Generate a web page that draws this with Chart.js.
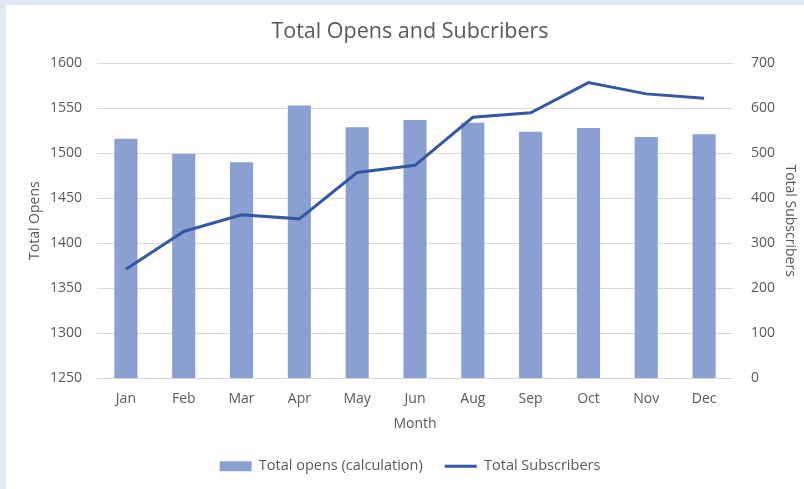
<!DOCTYPE html>
<html>
<head>
<meta charset="utf-8">
<script src="https://cdn.jsdelivr.net/npm/chart.js@4.4.1/dist/chart.umd.min.js"></script>
<style>
  html, body { margin: 0; padding: 0; }
  body { background: #dfe8f3; width: 804px; height: 489px; overflow: hidden; }
  #card { position: absolute; left: 6px; top: 5px; width: 798px; height: 484px; background: #fff; }
</style>
</head>
<body>
<div id="card"><canvas id="myChart" width="798" height="484"></canvas></div>
<script>
// data (no Jul in the original)
const months = ['Jan', 'Feb', 'Mar', 'Apr', 'May', 'Jun', 'Aug', 'Sep', 'Oct', 'Nov', 'Dec'];
const totalOpens = [1516, 1499, 1490, 1553, 1529, 1537, 1534, 1524, 1528, 1518, 1521];
const totalSubscribers = [242, 326, 363, 354, 457, 473, 580, 590, 657, 632, 622];
const leftTicks = [1250, 1300, 1350, 1400, 1450, 1500, 1550, 1600];
const rightTicks = [0, 100, 200, 300, 400, 500, 600, 700];

const grey = '#595959';
const tickFont = { family: 'Open Sans', size: 14 };
const titleFont = { family: 'Open Sans', size: 14 };

// fixed legend height so the gap between items can be wide
const legendHeight = {
  id: 'legendHeight',
  beforeInit(chart) {
    const fit = chart.legend.fit;
    chart.legend.fit = function() {
      fit.call(this);
      this.height = 52;
    };
  }
};

let ctx = document.getElementById('myChart').getContext('2d');
let chart = new Chart(ctx, {
  data: {
    labels: months,
    datasets: [
      {
        type: 'line',
        label: 'Total Subscribers',
        data: totalSubscribers,
        yAxisID: 'y1',
        borderColor: '#3558a0',
        backgroundColor: '#3558a0',
        borderWidth: 3,
        pointRadius: 0,
        pointStyle: 'line',
        tension: 0,
        order: 0
      },
      {
        type: 'bar',
        label: 'Total opens (calculation)',
        data: totalOpens,
        yAxisID: 'y',
        backgroundColor: '#8ba0d2',
        borderWidth: 0,
        pointStyle: 'rect',
        categoryPercentage: 1,
        barPercentage: 0.4,
        order: 1
      }
    ]
  },
  plugins: [legendHeight],
  options: {
    responsive: false,
    animation: false,
    layout: { padding: { left: 10, right: 0, top: 0, bottom: 0 } },
    plugins: {
      title: {
        display: true,
        text: 'Total Opens and Subcribers',
        color: grey,
        font: { family: 'Open Sans', size: 21.5, weight: 'normal' },
        padding: { top: 14, bottom: 18.5 }
      },
      legend: {
        position: 'bottom',
        reverse: true,
        labels: {
          color: grey,
          font: { family: 'Open Sans', size: 14.5 },
          usePointStyle: true,
          pointStyleWidth: 32,
          boxWidth: 32,
          boxHeight: 10,
          padding: 22
        }
      },
      tooltip: { enabled: false }
    },
    scales: {
      x: {
        grid: { display: false },
        border: { display: false },
        ticks: { color: grey, font: tickFont, padding: 5 },
        title: { display: true, text: 'Month', color: grey, font: titleFont, padding: { top: 4, bottom: 5 } },
        afterFit: function(scale) { scale.height = 59; }
      },
      y: {
        position: 'left',
        min: 1250,
        max: 1600,
        afterBuildTicks: function(scale) { scale.ticks = leftTicks.map(v => ({ value: v })); },
        grid: { color: '#d9d9d9', drawTicks: false },
        border: { display: false },
        ticks: { color: grey, font: tickFont, padding: 15, callback: v => String(v) },
        title: { display: true, text: 'Total Opens', color: grey, font: titleFont, padding: { top: 11, bottom: 0 } },
        afterFit: function(scale) { scale.width = 81; }
      },
      y1: {
        position: 'right',
        min: 0,
        max: 700,
        afterBuildTicks: function(scale) { scale.ticks = rightTicks.map(v => ({ value: v })); },
        grid: { display: false },
        border: { display: false },
        ticks: { color: grey, font: tickFont, padding: 10, callback: v => String(v) },
        title: { display: true, text: 'Total Subscribers', color: grey, font: titleFont, padding: { top: 6, bottom: 0 } },
        afterFit: function(scale) { scale.width = 71; }
      }
    }
  }
});
</script>
</body>
</html>
